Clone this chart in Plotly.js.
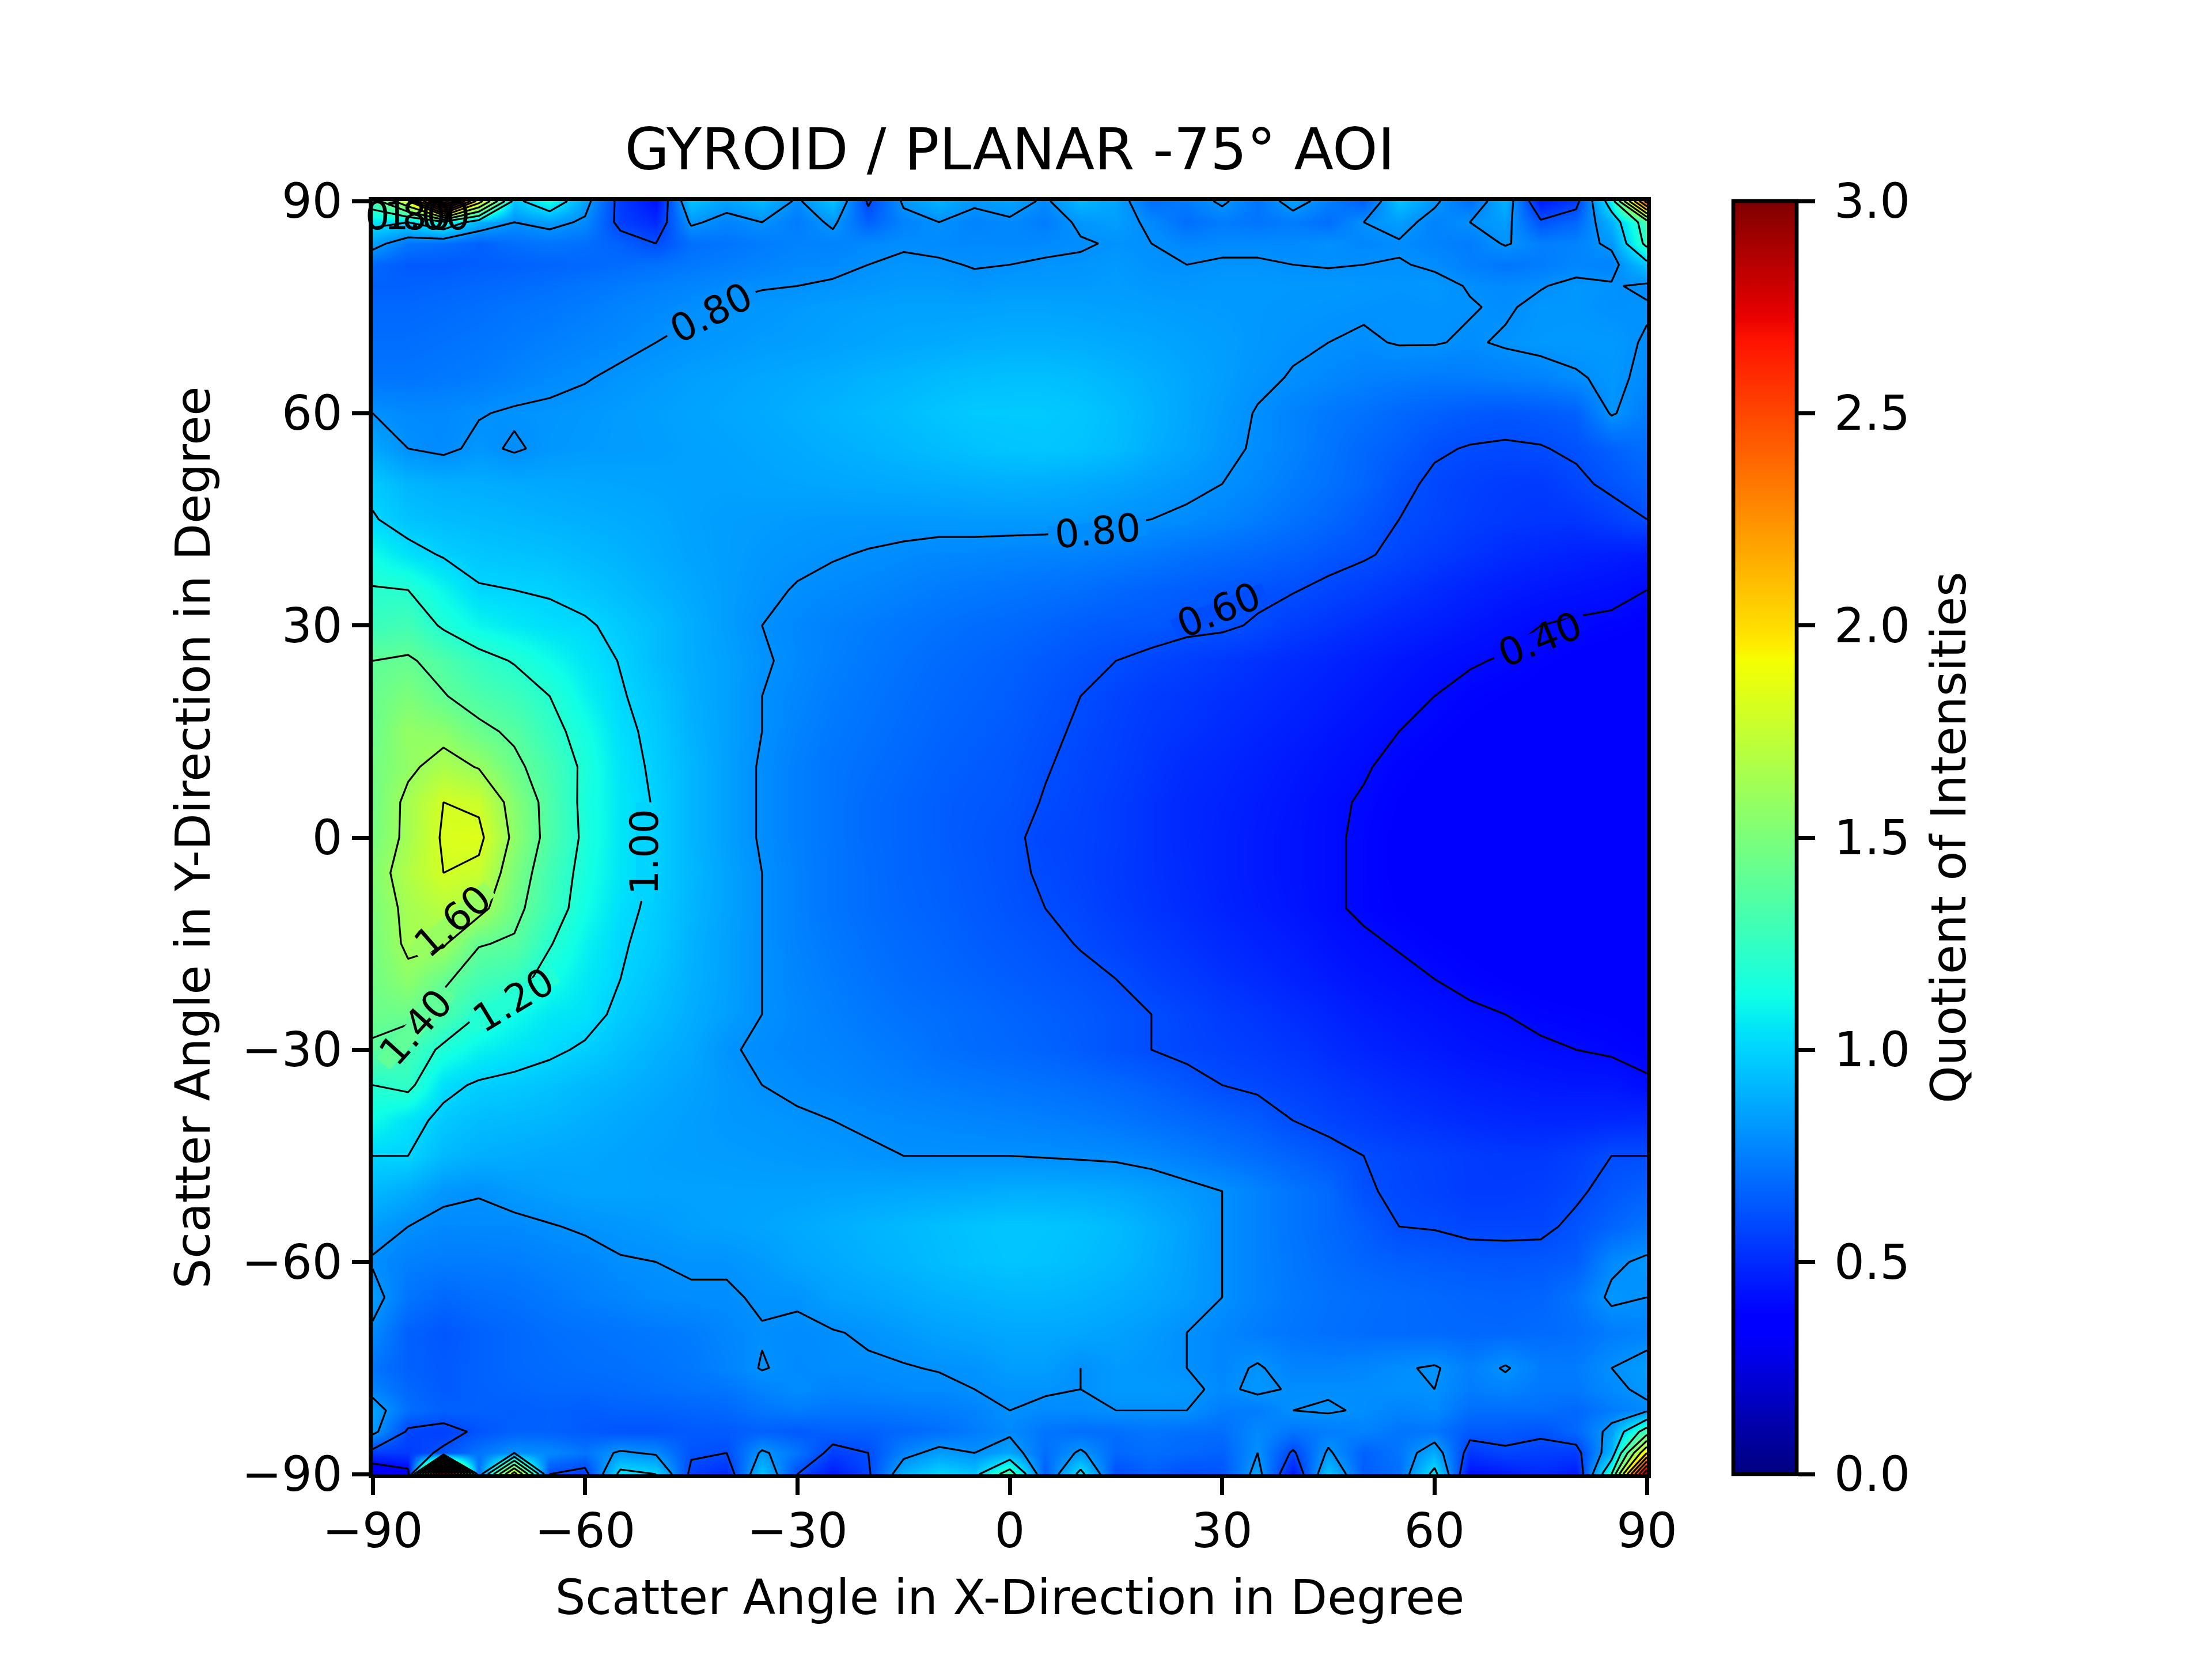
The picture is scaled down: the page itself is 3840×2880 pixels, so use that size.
<!DOCTYPE html>
<html>
<head>
<meta charset="utf-8">
<script src="https://cdn.plot.ly/plotly-3.0.1.min.js"></script>
<style>
  html, body { margin: 0; padding: 0; background: #fff; }
</style>
</head>
<body>
<div id="chart" style="width:3840px;height:2880px"></div>
<script>
const xAngles = [-90,-85,-80,-75,-70,-65,-60,-55,-50,-45,-40,-35,-30,-25,-20,-15,-10,-5,0,5,10,15,20,25,30,35,40,45,50,55,60,65,70,75,80,85,90];
const yAngles = [90,87,84,81,78,75,70,65,60,55,50,45,40,35,30,25,20,15,10,5,0,-5,-10,-15,-20,-25,-30,-35,-40,-45,-50,-55,-60,-65,-70,-75,-78,-81,-84,-87,-90];
// one row per entry of yAngles
const quotient = [
[1.30,1.80,3.20,1.90,0.95,1.15,0.85,0.55,0.42,0.95,0.85,0.92,0.78,0.95,0.58,0.82,0.90,0.82,0.86,0.78,0.92,0.86,0.70,0.74,0.82,0.72,0.85,0.75,0.65,0.95,0.82,0.70,0.90,0.45,0.55,1.10,2.50],
[1.05,1.00,1.15,0.90,0.80,0.84,0.78,0.56,0.50,0.82,0.76,0.80,0.74,0.82,0.66,0.76,0.80,0.76,0.78,0.74,0.82,0.84,0.78,0.70,0.74,0.72,0.74,0.70,0.80,0.84,0.76,0.80,0.84,0.62,0.68,0.90,1.30],
[0.85,0.72,0.70,0.66,0.70,0.72,0.70,0.66,0.60,0.70,0.72,0.74,0.76,0.76,0.78,0.79,0.78,0.78,0.78,0.78,0.79,0.81,0.80,0.77,0.78,0.78,0.78,0.80,0.77,0.79,0.76,0.74,0.81,0.75,0.76,0.82,1.25],
[0.68,0.64,0.64,0.65,0.66,0.67,0.68,0.695,0.71,0.73,0.745,0.76,0.775,0.78,0.80,0.815,0.81,0.795,0.80,0.81,0.815,0.83,0.805,0.80,0.81,0.81,0.80,0.795,0.80,0.805,0.79,0.75,0.72,0.74,0.77,0.76,0.95],
[0.66,0.66,0.67,0.68,0.69,0.705,0.72,0.735,0.75,0.765,0.78,0.795,0.80,0.81,0.82,0.83,0.83,0.82,0.83,0.83,0.83,0.835,0.825,0.82,0.83,0.83,0.825,0.825,0.82,0.815,0.82,0.795,0.78,0.795,0.82,0.81,0.78],
[0.68,0.68,0.69,0.70,0.715,0.725,0.74,0.76,0.775,0.79,0.81,0.82,0.83,0.84,0.845,0.85,0.85,0.85,0.855,0.855,0.85,0.845,0.84,0.835,0.83,0.825,0.82,0.815,0.81,0.805,0.81,0.805,0.79,0.82,0.82,0.80,0.81],
[0.70,0.70,0.71,0.72,0.735,0.75,0.765,0.78,0.80,0.815,0.825,0.835,0.84,0.85,0.86,0.87,0.875,0.885,0.89,0.89,0.885,0.875,0.865,0.85,0.84,0.825,0.81,0.80,0.79,0.805,0.805,0.79,0.81,0.825,0.83,0.83,0.79],
[0.72,0.72,0.73,0.74,0.76,0.78,0.795,0.815,0.83,0.845,0.855,0.865,0.875,0.885,0.90,0.91,0.925,0.935,0.94,0.94,0.93,0.91,0.89,0.865,0.84,0.815,0.795,0.775,0.755,0.745,0.735,0.74,0.75,0.76,0.79,0.82,0.78],
[0.80,0.78,0.78,0.795,0.81,0.815,0.825,0.835,0.845,0.855,0.865,0.875,0.89,0.905,0.92,0.935,0.955,0.97,0.97,0.97,0.96,0.935,0.90,0.865,0.83,0.795,0.76,0.73,0.71,0.68,0.66,0.64,0.63,0.64,0.66,0.81,0.74],
[0.87,0.80,0.78,0.82,0.79,0.82,0.83,0.835,0.84,0.85,0.855,0.865,0.875,0.89,0.90,0.915,0.93,0.945,0.955,0.96,0.95,0.93,0.89,0.86,0.82,0.79,0.76,0.72,0.68,0.655,0.61,0.595,0.59,0.595,0.615,0.66,0.70],
[0.97,0.91,0.89,0.885,0.875,0.87,0.865,0.86,0.855,0.85,0.85,0.855,0.86,0.865,0.87,0.875,0.88,0.885,0.89,0.885,0.875,0.86,0.84,0.82,0.80,0.775,0.74,0.71,0.675,0.62,0.585,0.565,0.55,0.545,0.58,0.62,0.66],
[1.01,0.95,0.93,0.92,0.91,0.90,0.89,0.88,0.87,0.85,0.84,0.835,0.83,0.825,0.825,0.825,0.825,0.83,0.83,0.83,0.825,0.81,0.80,0.785,0.765,0.74,0.71,0.68,0.64,0.60,0.58,0.555,0.54,0.53,0.53,0.56,0.60],
[1.12,1.04,0.99,0.96,0.95,0.94,0.92,0.90,0.88,0.855,0.84,0.825,0.815,0.805,0.795,0.785,0.775,0.77,0.765,0.76,0.755,0.745,0.73,0.71,0.695,0.68,0.66,0.63,0.61,0.58,0.55,0.525,0.50,0.485,0.47,0.46,0.45],
[1.21,1.20,1.10,1.01,1.00,0.99,0.96,0.93,0.90,0.87,0.84,0.815,0.795,0.78,0.77,0.755,0.74,0.73,0.72,0.71,0.70,0.68,0.665,0.65,0.635,0.62,0.605,0.58,0.555,0.53,0.50,0.475,0.455,0.44,0.43,0.42,0.40],
[1.27,1.30,1.18,1.10,1.06,1.03,1.015,0.97,0.93,0.885,0.84,0.80,0.775,0.755,0.74,0.725,0.71,0.695,0.685,0.67,0.65,0.64,0.635,0.62,0.615,0.59,0.555,0.53,0.505,0.48,0.46,0.44,0.42,0.40,0.39,0.385,0.375],
[1.40,1.42,1.34,1.25,1.19,1.12,1.05,0.995,0.93,0.885,0.85,0.81,0.78,0.75,0.73,0.71,0.69,0.675,0.66,0.64,0.62,0.60,0.58,0.56,0.54,0.52,0.50,0.48,0.46,0.44,0.42,0.405,0.395,0.38,0.37,0.36,0.355],
[1.43,1.50,1.41,1.33,1.28,1.20,1.09,1.01,0.955,0.89,0.85,0.80,0.77,0.74,0.72,0.70,0.68,0.665,0.65,0.625,0.60,0.575,0.55,0.535,0.515,0.50,0.48,0.46,0.44,0.42,0.40,0.385,0.375,0.365,0.355,0.35,0.345],
[1.44,1.58,1.55,1.44,1.37,1.25,1.14,1.03,0.97,0.90,0.85,0.80,0.76,0.73,0.71,0.69,0.67,0.655,0.64,0.615,0.59,0.565,0.54,0.52,0.50,0.48,0.46,0.44,0.42,0.40,0.385,0.37,0.36,0.35,0.345,0.34,0.34],
[1.47,1.57,1.66,1.59,1.44,1.31,1.17,1.045,0.98,0.91,0.85,0.79,0.75,0.72,0.70,0.68,0.66,0.645,0.63,0.605,0.58,0.56,0.53,0.50,0.485,0.465,0.445,0.425,0.405,0.385,0.37,0.36,0.35,0.345,0.34,0.34,0.335],
[1.46,1.64,1.80,1.77,1.53,1.34,1.16,1.055,0.99,0.91,0.85,0.79,0.75,0.72,0.69,0.67,0.65,0.635,0.625,0.595,0.575,0.55,0.52,0.49,0.475,0.455,0.435,0.41,0.395,0.375,0.36,0.35,0.345,0.34,0.34,0.34,0.335],
[1.48,1.64,1.82,1.84,1.56,1.34,1.17,1.05,0.985,0.91,0.85,0.79,0.75,0.72,0.69,0.67,0.65,0.63,0.615,0.58,0.57,0.55,0.52,0.49,0.47,0.45,0.43,0.41,0.39,0.37,0.36,0.35,0.34,0.34,0.34,0.34,0.33],
[1.52,1.68,1.80,1.76,1.50,1.30,1.15,1.05,0.985,0.915,0.855,0.80,0.755,0.72,0.695,0.67,0.655,0.635,0.615,0.59,0.57,0.545,0.52,0.495,0.47,0.45,0.43,0.41,0.39,0.37,0.355,0.345,0.34,0.34,0.34,0.34,0.335],
[1.50,1.64,1.70,1.66,1.45,1.28,1.13,1.03,0.975,0.91,0.855,0.80,0.755,0.72,0.695,0.675,0.66,0.64,0.62,0.60,0.58,0.55,0.525,0.50,0.475,0.455,0.435,0.41,0.39,0.375,0.36,0.35,0.345,0.34,0.34,0.34,0.335],
[1.48,1.63,1.62,1.41,1.38,1.21,1.09,1.01,0.97,0.90,0.85,0.80,0.76,0.73,0.705,0.685,0.67,0.65,0.635,0.62,0.595,0.57,0.545,0.52,0.495,0.475,0.455,0.43,0.41,0.395,0.38,0.37,0.36,0.35,0.345,0.34,0.34],
[1.46,1.56,1.43,1.31,1.26,1.14,1.06,1.00,0.95,0.895,0.85,0.80,0.765,0.74,0.715,0.695,0.68,0.665,0.65,0.635,0.62,0.60,0.57,0.545,0.52,0.50,0.475,0.45,0.43,0.415,0.40,0.385,0.375,0.365,0.36,0.355,0.35],
[1.44,1.44,1.33,1.20,1.12,1.06,1.04,0.975,0.93,0.885,0.845,0.80,0.775,0.75,0.73,0.71,0.70,0.685,0.67,0.655,0.64,0.62,0.60,0.575,0.55,0.53,0.505,0.48,0.455,0.44,0.425,0.41,0.40,0.385,0.38,0.375,0.365],
[1.38,1.30,1.17,1.09,1.05,1.02,0.985,0.94,0.90,0.87,0.81,0.785,0.77,0.76,0.745,0.73,0.705,0.69,0.68,0.665,0.645,0.62,0.60,0.58,0.565,0.55,0.53,0.505,0.48,0.46,0.445,0.43,0.42,0.41,0.40,0.39,0.38],
[1.20,1.24,1.03,0.985,0.97,0.95,0.92,0.90,0.875,0.85,0.825,0.80,0.785,0.775,0.76,0.75,0.74,0.73,0.72,0.71,0.695,0.68,0.66,0.63,0.60,0.585,0.565,0.54,0.52,0.50,0.48,0.465,0.455,0.445,0.44,0.44,0.41],
[1.12,1.04,0.97,0.93,0.92,0.91,0.89,0.87,0.855,0.84,0.825,0.82,0.81,0.80,0.79,0.78,0.775,0.765,0.76,0.75,0.74,0.725,0.705,0.685,0.665,0.64,0.60,0.575,0.55,0.53,0.515,0.50,0.49,0.485,0.485,0.49,0.50],
[1.00,1.00,0.92,0.89,0.88,0.87,0.865,0.855,0.845,0.84,0.835,0.83,0.825,0.82,0.81,0.80,0.80,0.80,0.80,0.795,0.79,0.785,0.77,0.745,0.72,0.695,0.665,0.63,0.60,0.58,0.565,0.55,0.54,0.54,0.56,0.60,0.60],
[0.92,0.88,0.82,0.805,0.83,0.845,0.855,0.855,0.85,0.85,0.85,0.85,0.85,0.855,0.86,0.865,0.87,0.875,0.885,0.885,0.88,0.87,0.85,0.825,0.80,0.76,0.72,0.685,0.61,0.585,0.57,0.55,0.55,0.56,0.585,0.63,0.66],
[0.84,0.80,0.775,0.78,0.78,0.795,0.81,0.82,0.83,0.845,0.85,0.86,0.875,0.89,0.905,0.92,0.935,0.95,0.96,0.955,0.945,0.925,0.89,0.85,0.80,0.76,0.72,0.685,0.65,0.60,0.595,0.58,0.58,0.58,0.62,0.67,0.72],
[0.79,0.75,0.74,0.74,0.745,0.76,0.77,0.795,0.80,0.81,0.81,0.83,0.86,0.875,0.895,0.91,0.93,0.945,0.955,0.95,0.935,0.915,0.885,0.845,0.80,0.76,0.725,0.695,0.67,0.655,0.645,0.635,0.63,0.635,0.65,0.78,0.82],
[0.84,0.72,0.68,0.70,0.71,0.73,0.75,0.765,0.785,0.79,0.79,0.81,0.81,0.85,0.86,0.875,0.89,0.90,0.91,0.91,0.90,0.885,0.865,0.84,0.80,0.76,0.73,0.71,0.70,0.69,0.68,0.67,0.665,0.67,0.72,0.82,0.80],
[0.78,0.66,0.63,0.66,0.68,0.70,0.71,0.72,0.73,0.74,0.77,0.795,0.785,0.795,0.81,0.83,0.85,0.86,0.87,0.87,0.865,0.85,0.83,0.80,0.77,0.74,0.72,0.705,0.695,0.69,0.685,0.68,0.68,0.69,0.70,0.74,0.76],
[0.72,0.66,0.64,0.66,0.68,0.69,0.70,0.705,0.715,0.73,0.76,0.805,0.78,0.79,0.79,0.795,0.805,0.81,0.84,0.84,0.80,0.83,0.82,0.80,0.77,0.81,0.76,0.76,0.77,0.79,0.81,0.75,0.81,0.74,0.74,0.80,0.84],
[0.76,0.68,0.64,0.66,0.67,0.68,0.68,0.69,0.70,0.71,0.72,0.76,0.79,0.76,0.77,0.78,0.78,0.80,0.81,0.81,0.80,0.83,0.83,0.82,0.78,0.82,0.79,0.79,0.79,0.80,0.80,0.74,0.76,0.73,0.73,0.78,0.82],
[0.86,0.70,0.66,0.66,0.65,0.66,0.65,0.66,0.66,0.67,0.68,0.72,0.74,0.72,0.72,0.73,0.74,0.76,0.80,0.78,0.78,0.80,0.80,0.80,0.74,0.74,0.80,0.81,0.79,0.76,0.78,0.70,0.70,0.70,0.68,0.74,0.78],
[0.84,0.58,0.56,0.62,0.66,0.66,0.64,0.62,0.62,0.64,0.64,0.66,0.64,0.66,0.66,0.68,0.70,0.74,0.78,0.72,0.70,0.70,0.72,0.70,0.70,0.78,0.72,0.74,0.76,0.72,0.72,0.64,0.64,0.62,0.68,0.84,1.30],
[0.55,0.55,0.62,0.72,0.80,0.78,0.72,0.82,0.78,0.62,0.60,0.82,0.72,0.56,0.60,0.76,0.84,0.80,0.86,0.70,0.82,0.68,0.70,0.68,0.66,0.80,0.58,0.82,0.66,0.72,0.88,0.54,0.58,0.56,0.55,0.90,2.00],
[0.25,0.35,3.00,0.70,1.90,0.60,0.55,1.05,1.00,0.56,0.50,0.95,0.60,0.45,0.58,0.90,1.00,0.95,1.30,0.65,1.05,0.60,0.65,0.60,0.62,0.85,0.45,0.95,0.65,0.70,1.05,0.42,0.45,0.50,0.45,1.20,3.00]
];
const contourLevelStart = 0.2;
const contourLevelEnd = 3.0;
const contourLevelStep = 0.2;
const colorTicks = [0, 0.5, 1, 1.5, 2, 2.5, 3];
const colorTickText = ['0.0', '0.5', '1.0', '1.5', '2.0', '2.5', '3.0'];
const angleTicks = [-90, -60, -30, 0, 30, 60, 90];
// contour labels, matplotlib left them where these numbers are
const labelText = ['0.80', '0.80', '0.60', '0.40', '1.00', '1.20', '1.40', '1.60', '0.80', '1.00'];
const labelX = [-42.2, 12.4, 29.5, 74.9, -51.6, -70.1, -83.9, -78.7, -85, -82.3];
const labelY = [74.2, 43.3, 32.2, 28, -2, -23, -26.8, -11.8, 87.9, 87.9];
const labelAngle = [-27, -5, -22, -22, -90, -31, -48, -41, 0, 0];
const labelFill = ['#0091ff', '#008eff', '#004cff', '#0008ff', '#00d4ff', '#22ffd4', '#60ff97', '#97ff60', null, null];

// matplotlib jet
const JET = [
  [0, '#00007f'], [0.11, '#0000ff'], [0.125, '#0000ff'], [0.34, '#00dbff'], [0.35, '#00e5f7'],
  [0.375, '#0fffe7'], [0.64, '#f6ff00'], [0.65, '#ffee00'], [0.66, '#ffe200'], [0.89, '#ff1300'],
  [0.91, '#e80000'], [1, '#7f0000']
];
const FONT = 'DejaVu Sans, sans-serif';
const y = yAngles.slice().reverse();
const z = quotient.slice().reverse();

const axisStyle = {
  range: [-90, 90], tickvals: angleTicks, ticks: 'outside', ticklen: 29, tickwidth: 6.67,
  tickcolor: '#000', showline: true, mirror: true, linewidth: 6.67, linecolor: '#000',
  showgrid: false, zeroline: false, tickfont: { family: FONT, size: 83, color: '#000' },
};

// a thin strip in the local colour opens the contour line, the text goes on top of it
const labels = [];
labelText.forEach((t, i) => {
  if (labelFill[i]) {
    labels.push({
      text: ' ', x: labelX[i], y: labelY[i], xref: 'x', yref: 'y', showarrow: false, textangle: labelAngle[i],
      width: 170, height: 30, borderpad: 0, bgcolor: labelFill[i], font: { size: 10 },
    });
  }
  labels.push({
    text: t, x: labelX[i], y: labelY[i], xref: 'x', yref: 'y', showarrow: false, textangle: labelAngle[i],
    font: { family: FONT, size: 67, color: '#000' },
  });
});

Plotly.newPlot('chart', [
  {
    type: 'heatmap', x: xAngles, y: y, z: z, zmin: 0, zmax: 3, zsmooth: 'best',
    colorscale: JET, hoverinfo: 'skip',
    colorbar: {
      x: 1.068, xanchor: 'left', xpad: 0, ypad: 0, len: 1, lenmode: 'fraction', y: 0.5, yanchor: 'middle',
      thickness: 110, thicknessmode: 'pixels', outlinewidth: 6.67, outlinecolor: '#000',
      tickvals: colorTicks, ticktext: colorTickText.map((t) => '\u2009' + t + '\u2009'),
      ticks: 'outside', ticklen: 29, tickwidth: 6.67, tickcolor: '#000',
      tickfont: { family: FONT, size: 83, color: '#000' },
      title: { text: 'Quotient of Intensities', side: 'right', font: { family: FONT, size: 83, color: '#000' } },
    },
  },
  {
    type: 'contour', x: xAngles, y: y, z: z, showscale: false, hoverinfo: 'skip',
    autocontour: false,
    contours: { coloring: 'none', start: contourLevelStart, end: contourLevelEnd, size: contourLevelStep, showlabels: false },
    line: { color: '#000', width: 3.2, smoothing: 0 },
  },
], {
  width: 3840, height: 2880, paper_bgcolor: '#fff', plot_bgcolor: '#fff',
  margin: { l: 647, r: 981, t: 349, b: 321, pad: 0 },
  title: {
    text: 'GYROID / PLANAR -75° AOI', font: { family: FONT, size: 100, color: '#000' },
    x: 0.4565, xanchor: 'center', y: 0.91, yanchor: 'middle',
  },
  xaxis: { ...axisStyle, ticklabelstandoff: -8, title: { text: 'Scatter Angle in X-Direction in Degree', font: { family: FONT, size: 83, color: '#000' }, standoff: 41 } },
  yaxis: { ...axisStyle, title: { text: 'Scatter Angle in Y-Direction in Degree', font: { family: FONT, size: 83, color: '#000' }, standoff: 30 } },
  annotations: labels,
}, { displayModeBar: false });
</script>
</body>
</html>
